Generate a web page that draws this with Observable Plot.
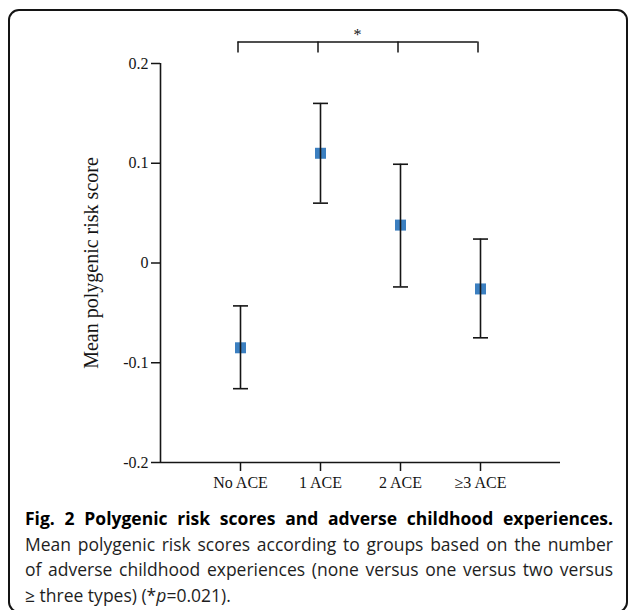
<!DOCTYPE html>
<html>
<head>
<meta charset="utf-8">
<script src="https://cdn.jsdelivr.net/npm/d3@7"></script>
<script src="https://cdn.jsdelivr.net/npm/@observablehq/plot@0.6"></script>
<style>
  html, body { margin: 0; padding: 0; background: #fff; }
  body { width: 629px; height: 610px; overflow: hidden; position: relative; }
  #frame { position: absolute; left: 8px; top: 9px; width: 620px; height: 604px;
           border: 2.5px solid #141414; border-radius: 11px; box-sizing: border-box; }
  #chart { position: absolute; left: 0; top: 0; }
  #caption { position: absolute; left: 25px; top: 506px; width: 588px;
             font-family: "Open Sans", sans-serif; font-size: 17.5px; line-height: 25.5px; color: #1e1e1e; }
  .line { text-align: justify; text-align-last: justify; white-space: nowrap; }
  .last { text-align: left; white-space: nowrap; }
  .title { font-weight: bold; color: #000; }
</style>
</head>
<body>
<div id="frame"></div>
<div id="chart"></div>
<div id="caption">
  <div class="line title">Fig. 2 Polygenic risk scores and adverse childhood experiences.</div>
  <div class="line">Mean polygenic risk scores according to groups based on the number</div>
  <div class="line">of adverse childhood experiences (none versus one versus two versus</div>
  <div class="last">≥ three types) (*<i>p</i>=0.021).</div>
</div>
<script>
// ---- data ----
const categories = ["No ACE", "1 ACE", "2 ACE", "≥3 ACE"];
const means = [-0.085, 0.110, 0.038, -0.026];
const lower = [-0.126, 0.060, -0.024, -0.075];
const upper = [-0.043, 0.160, 0.099, 0.024];
const yTicks = [-0.2, -0.1, 0, 0.1, 0.2];
const yTickLabels = ["-0.2", "-0.1", "0", "0.1", "0.2"];
const yLabel = "Mean polygenic risk score";
const sigLabel = "*";
const bracketTop = 0.2215;
const bracketBottom = 0.2105;
const starY = 0.229;

const data = categories.map((c, i) => ({cat: c, mean: means[i], lo: lower[i], hi: upper[i]}));

const ink = "#151515";
const capSymbol = {
  draw(ctx, size) {
    const w = Math.sqrt(size);
    ctx.moveTo(-w / 2, 0);
    ctx.lineTo(w / 2, 0);
  }
};

const chart = Plot.plot({
  width: 629,
  height: 500,
  marginTop: 63,
  marginBottom: 38,
  marginLeft: 160,
  marginRight: 69,
  style: {fontFamily: "'Liberation Serif', 'Times New Roman', serif", fontSize: "16px", color: ink, background: "transparent"},
  x: {type: "point", domain: categories, padding: 1},
  y: {domain: [-0.2, 0.2]},
  marks: [
    // axis lines
    Plot.ruleY([-0.2], {stroke: ink, strokeWidth: 1.6}),
    Plot.ruleX([categories[0]], {y1: -0.2, y2: 0.2, dx: -80, stroke: ink, strokeWidth: 1.6}),
    Plot.axisX({tickSize: 9, tickPadding: 5, fontSize: 16, label: null, strokeWidth: 1.5}),
    Plot.axisY({ticks: yTicks, tickFormat: d => yTickLabels[yTicks.indexOf(d)], tickSize: 9, tickPadding: 3, fontSize: 16, label: null, strokeWidth: 1.5}),
    Plot.text([yLabel], {frameAnchor: "left", textAnchor: "middle", rotate: -90, dx: -69, fontSize: 20, fill: ink}),
    // significance bracket
    Plot.ruleY([bracketTop], {x1: () => categories[0], x2: () => categories[categories.length - 1], dx: -2.5, stroke: ink, strokeWidth: 1.5}),
    Plot.ruleX(categories, {y1: bracketTop, y2: bracketBottom, dx: -2.5, stroke: ink, strokeWidth: 1.5}),
    Plot.text([sigLabel], {y: () => starY, dx: -3, fontSize: 16, fill: ink}),
    // means
    Plot.dot(data, {x: "cat", y: "mean", symbol: "square", r: 11 / Math.sqrt(Math.PI), fill: "#3b7fc0", stroke: "none"}),
    // error bars
    Plot.ruleX(data, {x: "cat", y1: "lo", y2: "hi", stroke: ink, strokeWidth: 1.6}),
    Plot.dot(data, {x: "cat", y: "hi", symbol: capSymbol, r: 15 / Math.sqrt(Math.PI), fill: "none", stroke: ink, strokeWidth: 1.6}),
    Plot.dot(data, {x: "cat", y: "lo", symbol: capSymbol, r: 15 / Math.sqrt(Math.PI), fill: "none", stroke: ink, strokeWidth: 1.6})
  ]
});
document.getElementById("chart").appendChild(chart);
</script>
</body>
</html>
